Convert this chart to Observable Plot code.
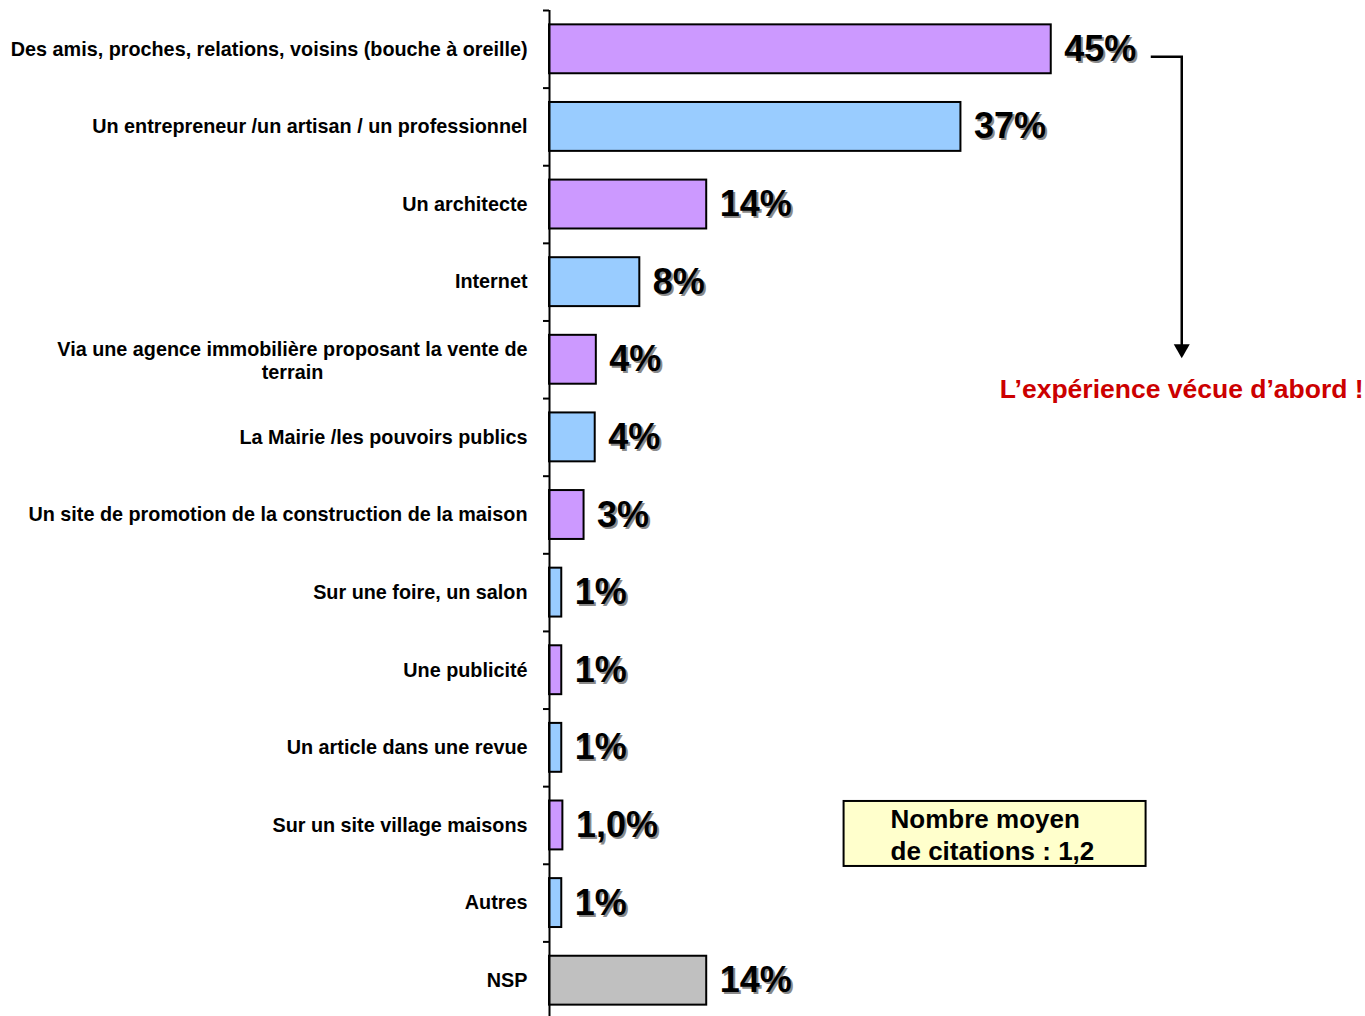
<!DOCTYPE html>
<html>
<head>
<meta charset="utf-8">
<script src="https://cdn.jsdelivr.net/npm/d3@7"></script>
<script src="https://cdn.jsdelivr.net/npm/@observablehq/plot@0.6"></script>
<style>
  html, body { margin: 0; padding: 0; background: #fff; }
  #chart { position: relative; width: 1365px; height: 1016px; overflow: hidden; }
  svg { font-family: "Liberation Sans", Arial, sans-serif; }
</style>
</head>
<body>
<div id="chart"></div>
<script>
const categories = [
  "Des amis, proches, relations, voisins (bouche à oreille)",
  "Un entrepreneur /un artisan / un professionnel",
  "Un architecte",
  "Internet",
  "Via une agence immobilière proposant la vente de\nterrain",
  "La Mairie /les pouvoirs publics",
  "Un site de promotion de la construction de la maison",
  "Sur une foire, un salon",
  "Une publicité",
  "Un article dans une revue",
  "Sur un site village maisons",
  "Autres",
  "NSP"
];
const values = [45, 36.9, 14.1, 8.1, 4.2, 4.1, 3.1, 1.1, 1.1, 1.1, 1.2, 1.1, 14.1];
const valueLabels = ["45%", "37%", "14%", "8%", "4%", "4%", "3%", "1%", "1%", "1%", "1,0%", "1%", "14%"];
const barColors = ["#CC99FF", "#99CCFF", "#CC99FF", "#99CCFF", "#CC99FF", "#99CCFF", "#CC99FF",
                   "#99CCFF", "#CC99FF", "#99CCFF", "#CC99FF", "#99CCFF", "#C0C0C0"];
const annotation = "L\u2019expérience vécue d\u2019abord !";
const boxLines = ["Nombre moyen", "de citations : 1,2"];

const data = categories.map((c, i) => ({cat: c, value: values[i], label: valueLabels[i], color: barColors[i]}));

const W = 1365, H = 1016;
const x0 = 549, pxPerPct = 11.15;
const yTop = 10, yBot = 1019;
const step = (yBot - yTop) / categories.length;
const padIn = 0.37, padOut = 0.185;

const labelFont = 19.8;
const FONT = "'Liberation Sans', Arial, sans-serif";

// measure first line of multi-line labels to centre the block
const ctx = document.createElement("canvas").getContext("2d");
ctx.font = `bold ${labelFont}px ${FONT}`;
const single = categories.filter(c => !c.includes("\n"));
const multi = categories.filter(c => c.includes("\n"));
const multiDx = multi.map(c => -22 - ctx.measureText(c.split("\n")[0]).width / 2);

const chart = Plot.plot({
  width: W, height: H,
  marginLeft: x0, marginTop: yTop, marginBottom: 0, marginRight: 0,
  x: {domain: [0, 60], range: [x0, x0 + 60 * pxPerPct], axis: null},
  y: {domain: categories, range: [yTop, yBot], paddingInner: padIn, paddingOuter: padOut, round: false, axis: null},
  style: {fontFamily: FONT, overflow: "visible"},
  marks: [
    Plot.barX(data, {x: "value", y: "cat", fill: "color", stroke: "black", strokeWidth: 2}),
    Plot.ruleX([0], {stroke: "black", strokeWidth: 2}),
    Plot.ruleY(categories, {y: d => d, x1: -6 / pxPerPct, x2: 0, dy: -step / 2, stroke: "black", strokeWidth: 2}),
    Plot.text(single, {x: 0, y: d => d, text: d => d, textAnchor: "end", dx: -22,
      fontSize: labelFont, fontWeight: "bold", fill: "black"}),
    Plot.text(multi, {x: 0, y: d => d, text: d => d, textAnchor: "middle", dx: multiDx[0],
      fontSize: labelFont, fontWeight: "bold", fill: "black", lineHeight: 1.2}),
    Plot.text(data, {x: "value", y: "cat", text: "label", textAnchor: "start", dx: 15, dy: 2,
      fontSize: 36, fontWeight: "bold", fill: "#8a8a8a"}),
    Plot.text(data, {x: "value", y: "cat", text: "label", textAnchor: "start", dx: 13,
      fontSize: 36, fontWeight: "bold", fill: "black"})
  ]
});
document.getElementById("chart").appendChild(chart);

// annotations (arrow, red comment, yellow box)
const xs = chart.scale("x"), ys = chart.scale("y");
const ns = "http://www.w3.org/2000/svg";
const g = document.createElementNS(ns, "g");
g.setAttribute("text-anchor", "start");
chart.appendChild(g);
const y0c = ys.apply(categories[0]) + ys.bandwidth / 2;
const y4c = ys.apply(categories[4]) + ys.bandwidth / 2;
const ax1 = xs.apply(45) + 100, ax2 = xs.apply(45) + 131;
const ay1 = y0c + 8, ay2 = y4c - 1;
function el(tag, attrs, text) {
  const e = document.createElementNS(ns, tag);
  for (const k in attrs) e.setAttribute(k, attrs[k]);
  if (text != null) e.textContent = text;
  g.appendChild(e);
  return e;
}
el("path", {d: `M${ax1},${ay1}H${ax2}V${ay2 - 13}`, fill: "none", stroke: "black", "stroke-width": 2.5});
el("path", {d: `M${ax2 - 8},${ay2 - 14}L${ax2 + 8},${ay2 - 14}L${ax2},${ay2}Z`, fill: "black"});
el("text", {x: ax2, y: ay2 + 40, "text-anchor": "middle", "font-size": 26.5, "font-weight": "bold",
  fill: "#CC0000", "font-family": FONT}, annotation);

const bx = xs.apply(26.42), by = ys.apply(categories[10]) + ys.bandwidth / 2 - 24;
el("rect", {x: bx, y: by, width: 302, height: 65, fill: "#FFFFCC", stroke: "black", "stroke-width": 2});
boxLines.forEach((t, i) => {
  el("text", {x: bx + 47, y: by + 27 + i * 32, "text-anchor": "start", "font-size": 26, "font-weight": "bold",
    fill: "black", "font-family": FONT}, t);
});
</script>
</body>
</html>
